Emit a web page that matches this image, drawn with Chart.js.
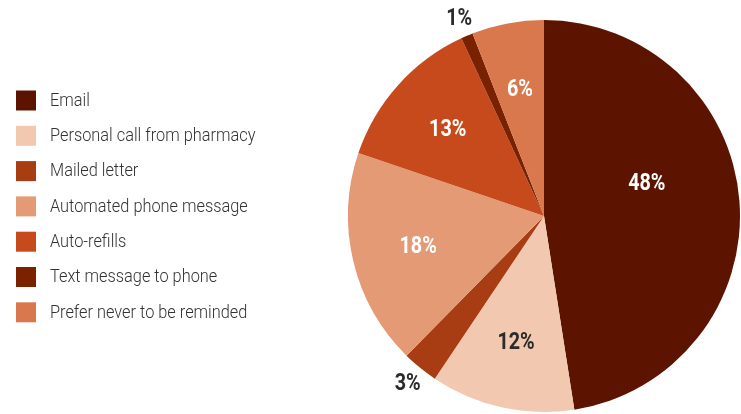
<!DOCTYPE html>
<html>
<head>
<meta charset="utf-8">
<script src="https://cdn.jsdelivr.net/npm/chart.js@4.4.1/dist/chart.umd.min.js"></script>
<style>
  html, body { margin: 0; padding: 0; background: #fff; }
  #wrap { width: 741px; height: 414px; }
</style>
</head>
<body>
<div id="wrap"><canvas id="pieChart"></canvas></div>
<script>
/* eslint-disable no-undef */
// datos de la grafica
const categories = ['Email', 'Personal call from pharmacy', 'Mailed letter', 'Automated phone message', 'Auto-refills', 'Text message to phone', 'Prefer never to be reminded']
const shares = [48, 12, 3, 18, 13, 1, 6]
const sliceColors = ['#5c1400', '#f2c9b0', '#a83c12', '#e49a75', '#c64a1b', '#7a2200', '#d8784c']
const labelColors = ['#ffffff', '#2b2b2b', '#2b2b2b', '#ffffff', '#ffffff', '#2b2b2b', '#ffffff']

const FONT = 'Roboto, sans-serif'
const SQUEEZE = 0.86 // letra condensada

// texto estrecho
function narrowText (ctx, text, x, y) {
  ctx.save()
  ctx.translate(x, y)
  ctx.scale(SQUEEZE, 1)
  ctx.fillText(text, 0, 0)
  ctx.restore()
}

// leyenda dibujada a la izquierda
const sideLegend = {
  id: 'sideLegend',
  afterDraw (chart) {
    const ctx = chart.ctx
    const step = 35.3
    const top = 90.5
    ctx.save()
    ctx.font = '300 19px ' + FONT
    ctx.textBaseline = 'middle'
    ctx.textAlign = 'left'
    categories.forEach((name, i) => {
      const y = top + i * step
      ctx.fillStyle = sliceColors[i]
      ctx.fillRect(16, y, 20, 20)
      ctx.fillStyle = '#333333'
      narrowText(ctx, name, 50, y + 10.5)
    })
    ctx.restore()
  }
}

// etiquetas de porcentaje
const pctLabels = {
  id: 'pctLabels',
  afterDatasetsDraw (chart) {
    const ctx = chart.ctx
    const meta = chart.getDatasetMeta(0)
    ctx.save()
    ctx.font = 'bold 23px ' + FONT
    ctx.textAlign = 'center'
    ctx.textBaseline = 'middle'
    meta.data.forEach((arc, i) => {
      const { x, y, startAngle, endAngle, outerRadius } = arc.getProps(['x', 'y', 'startAngle', 'endAngle', 'outerRadius'], true)
      let mid = (startAngle + endAngle) / 2
      let r = outerRadius * 0.66
      if (shares[i] < 5) r = outerRadius * 1.1
      if (i === 0) { mid -= 13 * Math.PI / 180; r = outerRadius * 0.55 }
      ctx.fillStyle = labelColors[i]
      narrowText(ctx, shares[i] + '%', x + Math.cos(mid) * r, y + Math.sin(mid) * r + 1)
    })
    ctx.restore()
  }
}

const ctx1 = document.getElementById('pieChart').getContext('2d')
const myChart1 = new Chart(ctx1, {
  type: 'pie',
  data: {
    labels: categories,
    datasets: [{
      data: shares,
      backgroundColor: sliceColors,
      borderWidth: 0
    }]
  },
  options: {
    responsive: true,
    maintainAspectRatio: false,
    animation: false,
    layout: { padding: { left: 348, top: 20, bottom: 2, right: 1 } },
    plugins: {
      legend: { display: false },
      tooltip: { enabled: false }
    }
  },
  plugins: [sideLegend, pctLabels]
})
</script>
</body>
</html>
